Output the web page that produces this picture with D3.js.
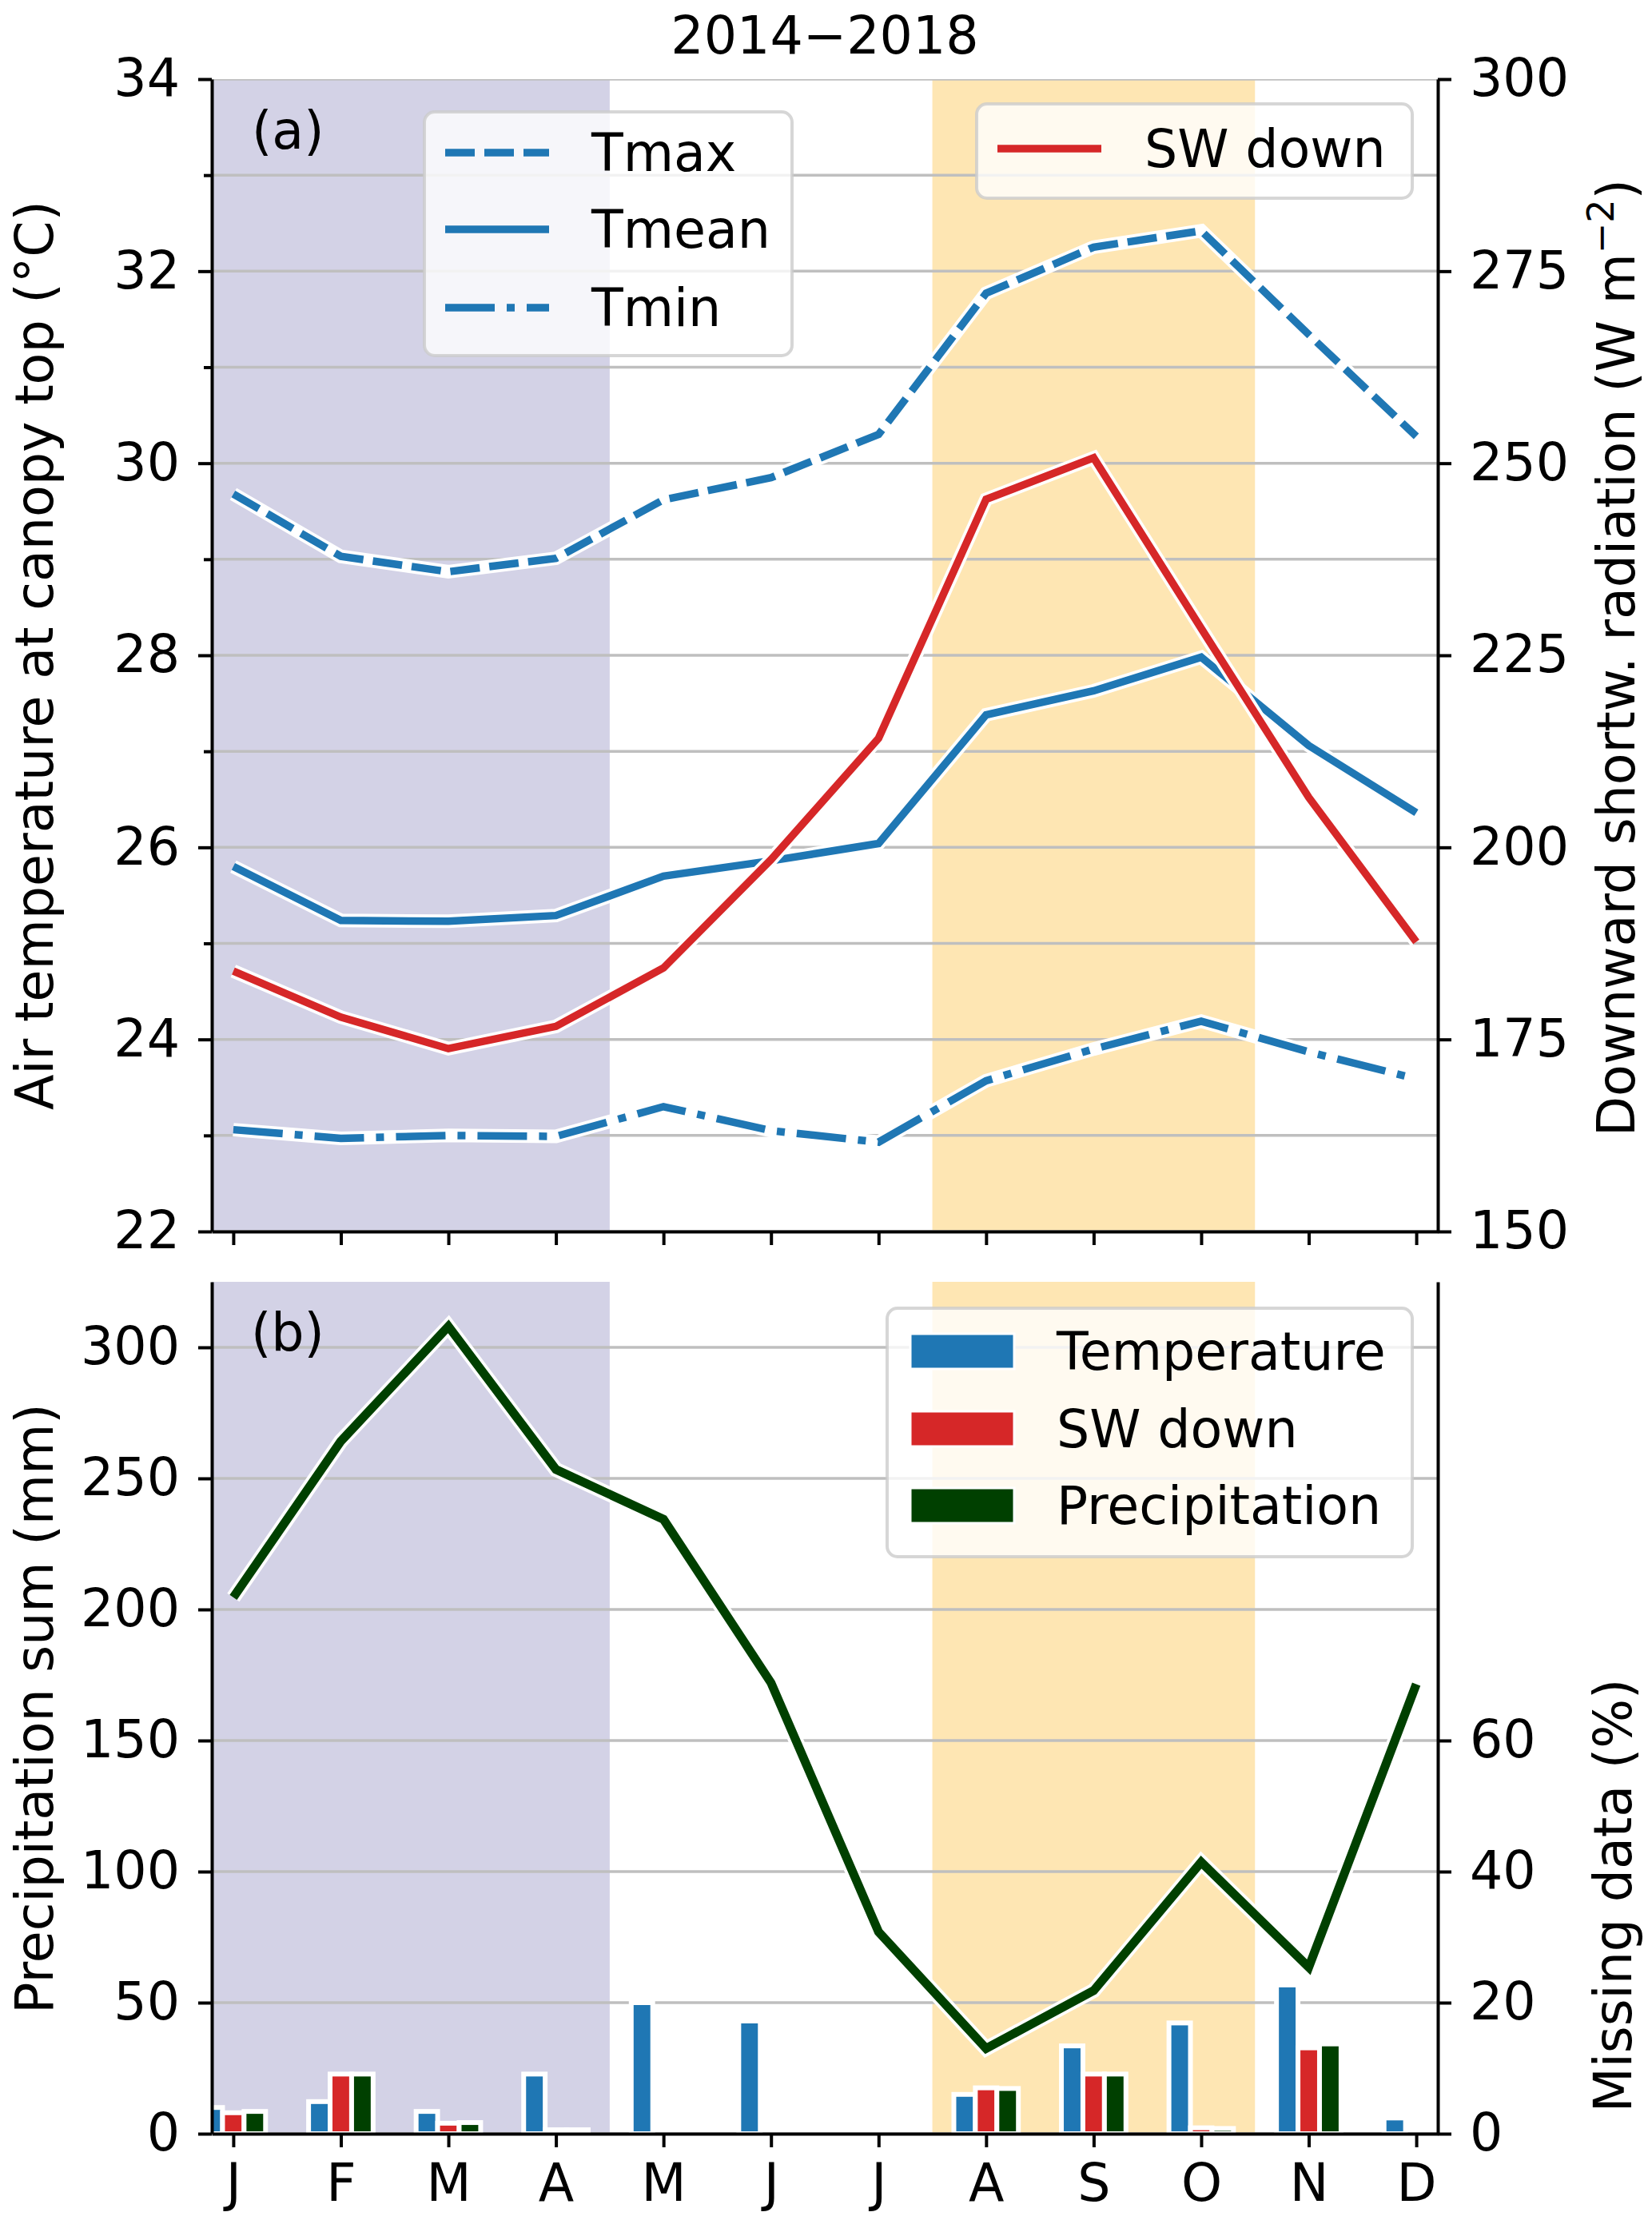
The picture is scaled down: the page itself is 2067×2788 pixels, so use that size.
<!DOCTYPE html>
<html><head><meta charset="utf-8">
<script src="https://cdn.jsdelivr.net/npm/d3@7"></script>
<style>
body{margin:0;background:#fff}
text{font-family:"DejaVu Sans",sans-serif}
</style>
</head><body>
<svg id="chart" width="2067" height="2788" xmlns="http://www.w3.org/2000/svg"></svg>
<script>
// ---------------- data ----------------
const months = ["J","F","M","A","M","J","J","A","S","O","N","D"];
const tmax  = [29.68, 29.03, 28.87, 29.01, 29.62, 29.85, 30.30, 31.77, 32.25, 32.42, 31.34, 30.28];
const tmean = [25.80, 25.24, 25.23, 25.29, 25.70, 25.86, 26.04, 27.38, 27.63, 27.98, 27.06, 26.36];
const tmin  = [23.06, 22.97, 23.00, 22.99, 23.30, 23.05, 22.93, 23.57, 23.90, 24.19, 23.87, 23.59];
const swDown = [183.9, 177.9, 173.8, 176.7, 184.3, 198.4, 214.2, 245.3, 250.7, 228.5, 206.5, 187.7];
const precip = [204.6, 264.2, 308.0, 253.4, 234.4, 172.0, 77.0, 32.5, 54.6, 103.6, 63.5, 171.5];
const missTemp   = [4.0, 4.9, 3.4, 9.1, 20.0, 17.2, 0, 6.0, 13.4, 16.9, 22.7, 2.4];
const missSW     = [3.2, 9.1, 1.6, 0.6, 0, 0, 0, 7.0, 9.1, 0.9, 13.1, 0];
const missPrecip = [3.4, 9.1, 1.7, 0.6, 0, 0, 0, 6.9, 9.1, 0.8, 13.7, 0];
const tempTicks = [22, 24, 26, 28, 30, 32, 34];
const tempMinorTicks = [23, 25, 27, 29, 31, 33];
const swTicks = [150, 175, 200, 225, 250, 275, 300];
const precipTicks = [0, 50, 100, 150, 200, 250, 300];
const missTicks = [0, 20, 40, 60];
const wetSeason = [-0.2, 3.5];
const drySeason = [6.5, 9.5];

// ---------------- layout ----------------
const L = 265, R = 1799;
const aTop = 99, aBot = 1541, bTop = 1604, bBot = 2670;
const FS = 65;
const blue = "#1f77b4", red = "#d62728", green = "#004000";
const purple = "#d3d2e6", orange = "#fee6b3";

const svg = d3.select("#chart");
const x = d3.scaleLinear().domain([-0.2, 11.2]).range([L, R]);
const yT = d3.scaleLinear().domain([22, 34]).range([aBot, aTop]);
const ySW = d3.scaleLinear().domain([150, 300]).range([aBot, aTop]);
const yP = d3.scaleLinear().domain([0, 325]).range([bBot, bTop]);
const yM = d3.scaleLinear().domain([0, 130]).range([bBot, bTop]);

const defs = svg.append("defs");
defs.append("clipPath").attr("id", "clipA").append("rect")
  .attr("x", L).attr("y", aTop).attr("width", R - L).attr("height", aBot - aTop);
defs.append("clipPath").attr("id", "clipB").append("rect")
  .attr("x", L).attr("y", bTop).attr("width", R - L).attr("height", bBot - bTop);

function panel(clipId, top, bot) {
  const g = svg.append("g").attr("clip-path", `url(#${clipId})`);
  g.append("rect").attr("x", x(wetSeason[0])).attr("width", x(wetSeason[1]) - x(wetSeason[0]))
    .attr("y", top).attr("height", bot - top).attr("fill", purple);
  g.append("rect").attr("x", x(drySeason[0])).attr("width", x(drySeason[1]) - x(drySeason[0]))
    .attr("y", top).attr("height", bot - top).attr("fill", orange);
  return g;
}

function drawLine(g, data, yScale, color, dash, lw) {
  lw = lw || 9.5;
  const line = d3.line().x((d, i) => x(i)).y(d => yScale(d));
  g.append("path").attr("d", line(data)).attr("fill", "none")
    .attr("stroke", "#fff").attr("stroke-width", lw + 7.5).attr("stroke-linejoin", "miter")
    .attr("stroke-miterlimit", 4).attr("stroke-linecap", "butt");
  const p = g.append("path").attr("d", line(data)).attr("fill", "none")
    .attr("stroke", color).attr("stroke-width", lw).attr("stroke-linejoin", "miter")
    .attr("stroke-miterlimit", 4).attr("stroke-linecap", "butt");
  if (dash) p.attr("stroke-dasharray", dash);
}

function styleAxis(g) {
  g.attr("font-size", FS).attr("font-family", '"DejaVu Sans", sans-serif');
  g.selectAll(".domain").attr("stroke", "#000").attr("stroke-width", 4);
  g.selectAll(".tick line").attr("stroke", "#000").attr("stroke-width", 4);
  g.selectAll(".tick text").attr("fill", "#000");
  return g;
}

function legendBox(x0, y0, x1, y1) {
  svg.append("rect").attr("x", x0).attr("y", y0).attr("width", x1 - x0).attr("height", y1 - y0)
    .attr("rx", 13).attr("ry", 13)
    .attr("fill", "rgba(255,255,255,0.8)").attr("stroke", "rgba(204,204,204,0.8)").attr("stroke-width", 4);
}

// ================= PANEL A =================
const gA = panel("clipA", aTop, aBot);
gA.selectAll("line.grid").data(d3.range(22, 35, 1)).join("line")
  .attr("x1", L).attr("x2", R).attr("y1", d => yT(d)).attr("y2", d => yT(d))
  .attr("stroke", "#bfbfbf").attr("stroke-width", 3.5);
drawLine(gA, tmax, yT, blue, "37,12");
drawLine(gA, tmean, yT, blue, null);
drawLine(gA, tmin, yT, blue, "62,15,10,15");

legendBox(531, 140, 991, 445);
const legA = [["Tmax", "37,12", 191], ["Tmean", null, 287], ["Tmin", "62,15,10,15", 385]];
legA.forEach(([lab, dash, yy]) => {
  const l = svg.append("line").attr("x1", 557).attr("x2", 687).attr("y1", yy).attr("y2", yy)
    .attr("stroke", blue).attr("stroke-width", 9.5);
  if (dash) l.attr("stroke-dasharray", dash);
  svg.append("text").attr("x", 740).attr("y", yy + 23).attr("font-size", FS).text(lab);
});

drawLine(gA, swDown, ySW, red, null);

legendBox(1222, 130, 1767, 248);
svg.append("line").attr("x1", 1248).attr("x2", 1378).attr("y1", 186).attr("y2", 186)
  .attr("stroke", red).attr("stroke-width", 9.5);
svg.append("text").attr("x", 1432).attr("y", 186 + 23).attr("font-size", FS).text("SW down");

styleAxis(svg.append("g").attr("transform", `translate(${L},0)`)
  .call(d3.axisLeft(yT).tickValues(tempTicks).tickSize(17).tickSizeOuter(0).tickPadding(23)));
styleAxis(svg.append("g").attr("transform", `translate(${L},0)`)
  .call(d3.axisLeft(yT).tickValues(tempMinorTicks).tickSize(10).tickSizeOuter(0).tickFormat("")))
  .select(".domain").remove();
styleAxis(svg.append("g").attr("transform", `translate(${R},0)`)
  .call(d3.axisRight(ySW).tickValues(swTicks).tickSize(17).tickSizeOuter(0).tickPadding(23)));
styleAxis(svg.append("g").attr("transform", `translate(0,${aBot})`)
  .call(d3.axisBottom(x).tickValues(d3.range(12)).tickSize(17).tickSizeOuter(0).tickFormat("")));

svg.append("text").attr("x", 315).attr("y", 186).attr("font-size", FS).text("(a)");
svg.append("text").attr("x", (L + R) / 2).attr("y", 67).attr("text-anchor", "middle")
  .attr("font-size", FS).text("2014\u22122018");

svg.append("text").attr("transform", `translate(66,820) rotate(-90)`).attr("text-anchor", "middle")
  .attr("font-size", FS).text("Air temperature at canopy top (\u00B0C)");
const rl = svg.append("text").attr("transform", `translate(2045,823) rotate(-90)`)
  .attr("text-anchor", "middle").attr("font-size", FS);
rl.append("tspan").text("Downward shortw. radiation (W m");
rl.append("tspan").attr("dy", -26).attr("font-size", 46).text("\u22122");
rl.append("tspan").attr("dy", 26).text(")");

// ================= PANEL B =================
const gB = panel("clipB", bTop, bBot);
gB.selectAll("line.grid").data(precipTicks).join("line")
  .attr("x1", L).attr("x2", R).attr("y1", d => yP(d)).attr("y2", d => yP(d))
  .attr("stroke", "#bfbfbf").attr("stroke-width", 3.5);
drawLine(gB, precip, yP, green, null, 11);

const bw = x(0.2) - x(0);
const barSeries = [[missTemp, blue, -1], [missSW, red, 0], [missPrecip, green, 1]];
barSeries.forEach(([vals, col, k]) => {
  gB.selectAll(null).data(vals).join("rect")
    .attr("x", (d, i) => x(i + k * 0.2 - 0.1))
    .attr("width", bw)
    .attr("y", d => yM(d))
    .attr("height", d => yM(0) - yM(d))
    .attr("fill", col)
    .attr("stroke", d => d > 0 ? "#fff" : "none")
    .attr("stroke-width", 6);
});

legendBox(1110, 1637, 1767, 1948);
const legB = [["Temperature", blue, 1691], ["SW down", red, 1788], ["Precipitation", green, 1884]];
legB.forEach(([lab, col, yy]) => {
  svg.append("rect").attr("x", 1139).attr("y", yy - 22).attr("width", 130).attr("height", 44)
    .attr("fill", col).attr("stroke", "#fff").attr("stroke-width", 3);
  svg.append("text").attr("x", 1322).attr("y", yy + 23).attr("font-size", FS).text(lab);
});

styleAxis(svg.append("g").attr("transform", `translate(${L},0)`)
  .call(d3.axisLeft(yP).tickValues(precipTicks).tickSize(17).tickSizeOuter(0).tickPadding(23)));
styleAxis(svg.append("g").attr("transform", `translate(${R},0)`)
  .call(d3.axisRight(yM).tickValues(missTicks).tickSize(17).tickSizeOuter(0).tickPadding(23)));
styleAxis(svg.append("g").attr("transform", `translate(0,${bBot})`)
  .call(d3.axisBottom(x).tickValues(d3.range(12)).tickSize(17).tickSizeOuter(0).tickPadding(21)
    .tickFormat(i => months[i])));

svg.append("text").attr("x", 314).attr("y", 1690).attr("font-size", FS).text("(b)");
svg.append("text").attr("transform", `translate(66,2138) rotate(-90)`).attr("text-anchor", "middle")
  .attr("font-size", FS).text("Precipitation sum (mm)");
svg.append("text").attr("transform", `translate(2041,2372) rotate(-90)`).attr("text-anchor", "middle")
  .attr("font-size", FS).text("Missing data (%)");
</script>
</body></html>
